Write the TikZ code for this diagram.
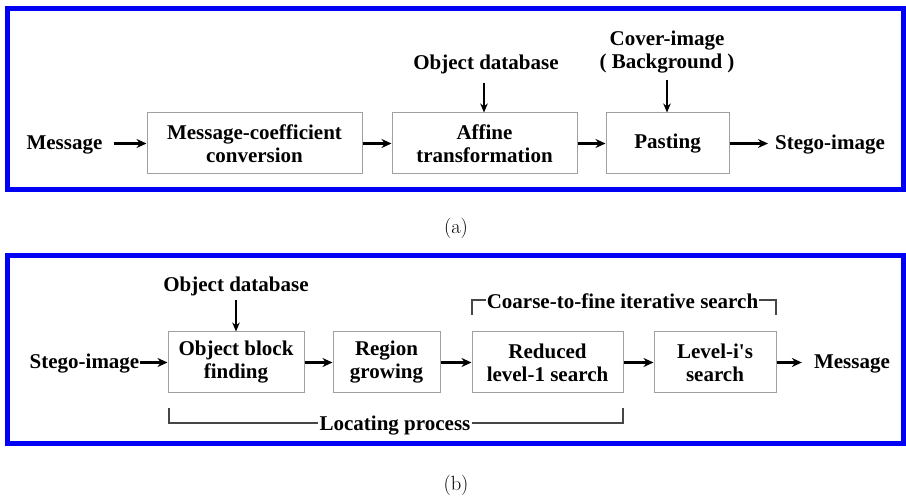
\documentclass[tikz,border=0pt]{standalone}
\usepackage{fontspec}
\newfontfamily\lblfont{Liberation Serif}
\usetikzlibrary{arrows.meta}
\definecolor{frameblue}{RGB}{0,0,245}
\definecolor{boxgray}{RGB}{160,160,160}
\definecolor{brk}{RGB}{70,70,70}
\tikzset{
  lbl/.style={font=\lblfont\fontsize{21}{23}\selectfont\bfseries, inner sep=0pt, align=center},
  blk/.style={draw=boxgray, line width=1pt, inner sep=0pt, align=center,
              font=\lblfont\fontsize{21}{23}\selectfont\bfseries},
  frm/.style={draw=frameblue, line width=5pt},
  arr/.style={line width=2.2pt, -{Stealth[length=10pt,width=9pt]}},
  darr/.style={line width=1.4pt, -{Stealth[length=9pt,width=7.5pt]}},
  brkline/.style={draw=brk, line width=1.6pt},
  subcap/.style={font=\fontsize{20.5}{24}\selectfont, inner sep=0pt}
}
\begin{document}
\begin{tikzpicture}[x=1pt,y=-1pt]
\useasboundingbox (0,0) rectangle (906,497);
% ---------- (a) ----------
\draw[frm] (7,9) rectangle (903,190);
\node[blk, minimum width=215pt, minimum height=61pt] (a1) at (254.5,143.5) {Message-coefficient\\conversion};
\node[blk, minimum width=185pt, minimum height=61pt] (a2) at (484.5,143.5) {Affine\\transformation};
\node[blk, minimum width=123pt, minimum height=61pt] (a3) at (667.5,143.5) {Pasting};
\node[lbl, anchor=base] (amsg) at (64.5,150) {Message};
\node[lbl, anchor=base] (astego) at (830,150) {Stego-image};
\node[lbl, anchor=base] (aobj) at (486,70) {Object database};
\node[lbl, anchor=base] (acover) at (667,46) {Cover-image};
\node[lbl, anchor=base] (aback) at (667,69) {( Background )};
\coordinate (aobjend) at (484,83);
\coordinate (acovend) at (667,80);
\draw[arr] ([xshift=11pt]amsg.east |- a1.west) -- (a1.west);
\draw[arr] (a1.east) -- (a2.west);
\draw[arr] (a2.east) -- (a3.west);
\draw[arr] (a3.east) -- ([xshift=-7pt]astego.west |- a3.east);
\draw[darr] (aobjend) -- (aobjend |- a2.north);
\draw[darr] (acovend) -- (acovend |- a3.north);
\node[subcap] (capa) at (456,228) {(a)};
% ---------- (b) ----------
\draw[frm] (7,256) rectangle (903,443);
\node[blk, minimum width=136pt, minimum height=61pt] (b1) at (236,362.5) {Object block\\finding};
\node[blk, minimum width=107pt, minimum height=61pt] (b2) at (386.5,362.5) {Region\\growing};
\node[blk, minimum width=151pt, minimum height=61pt] (b3) at (547.5,362.5) {Reduced\\level-1 search};
\node[blk, minimum width=122pt, minimum height=61pt] (b4) at (715,362.5) {Level-i's\\search};
\node[lbl, anchor=base] (bstego) at (84.5,369) {Stego-image};
\node[lbl, anchor=base] (bmsg) at (852,369) {Message};
\node[lbl, anchor=base] (bobj) at (236,292) {Object database};
\coordinate (bobjend) at (236,300);
\draw[darr] (bobjend) -- (b1.north);
\draw[arr] (bstego.east |- b1.west) -- (b1.west);
\draw[arr] (b1.east) -- (b2.west);
\draw[arr] (b2.east) -- (b3.west);
\draw[arr] (b3.east) -- (b4.west);
\draw[arr] (b4.east) -- ([xshift=-12pt]bmsg.west |- b4.east);
% coarse-to-fine bracket
\node[lbl, anchor=base] (coarse) at (622.5,309) {Coarse-to-fine iterative search};
\coordinate (cl) at (472,315);
\coordinate (cr) at (776,315);
\draw[brkline] (cl) -- (472,300) -- ([xshift=-1pt]coarse.west |- 0,300);
\draw[brkline] ([xshift=1pt]coarse.east |- 0,300) -- (776,300) -- (cr);
% locating bracket
\node[lbl, anchor=base] (locate) at (395,431) {Locating process};
\coordinate (ll) at (169,408);
\coordinate (lr) at (623,408);
\draw[brkline] (ll) -- (169,423) -- ([xshift=-1pt]locate.west |- 0,423);
\draw[brkline] ([xshift=1pt]locate.east |- 0,423) -- (623,423) -- (lr);
\node[subcap] (capb) at (456,485) {(b)};
\end{tikzpicture}
\end{document}
